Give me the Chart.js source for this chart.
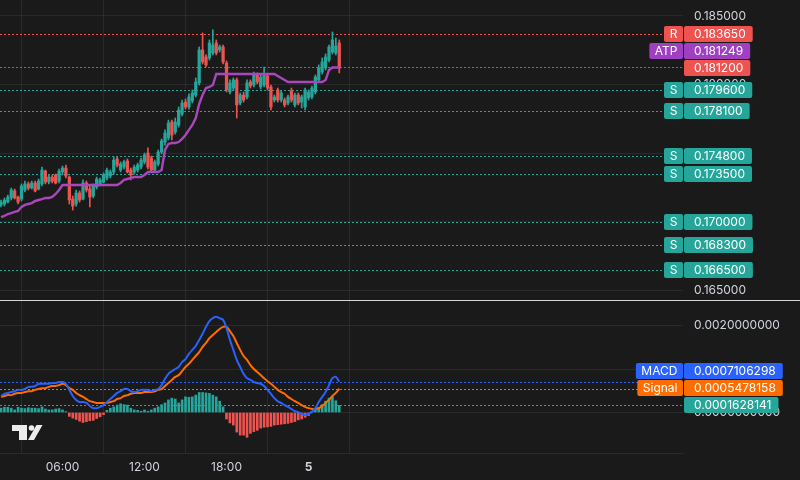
<!DOCTYPE html>
<html>
<head>
<meta charset="utf-8">
<script src="https://cdn.jsdelivr.net/npm/chart.js@4/dist/chart.umd.min.js"></script>
<style>
  html, body { margin: 0; padding: 0; background: #1a1a1a; }
  #wrap { width: 800px; height: 480px; overflow: hidden; }
  canvas { display: block; }
</style>
</head>
<body>
<div id="wrap">
  <canvas id="price" width="800" height="300"></canvas>
  <canvas id="macd" width="800" height="180"></canvas>
</div>
<script>
// 15 min candles, first one at 01:30
const firstHour = 1.5;
const stepHour = 0.25;

const opens = [
  0.17124, 0.17131, 0.17145, 0.17175, 0.17226, 0.17182, 0.17167, 0.17233, 0.17277, 0.17247,
  0.17284, 0.17240, 0.17277, 0.17371, 0.17291, 0.17327, 0.17342, 0.17298, 0.17364, 0.17393,
  0.17327, 0.17167, 0.17131, 0.17211, 0.17167, 0.17284, 0.17240, 0.17189, 0.17255, 0.17277,
  0.17291, 0.17320, 0.17335, 0.17364, 0.17459, 0.17378, 0.17400, 0.17444, 0.17378, 0.17364,
  0.17378, 0.17400, 0.17437, 0.17502, 0.17466, 0.17378, 0.17422, 0.17509, 0.17582, 0.17611,
  0.17728, 0.17655, 0.17706, 0.17786, 0.17873, 0.17837, 0.17881, 0.17924, 0.18012, 0.18252,
  0.18201, 0.18194, 0.18230, 0.18303, 0.18252, 0.18274, 0.18157, 0.17946, 0.17975, 0.18034,
  0.17866, 0.17924, 0.17910, 0.18019, 0.17997, 0.18070, 0.17983, 0.17997, 0.18063, 0.17983,
  0.17888, 0.17961, 0.17888, 0.17888, 0.17866, 0.17954, 0.17852, 0.17924, 0.17873, 0.17837,
  0.17903, 0.17910, 0.17946, 0.18034, 0.18092, 0.18121, 0.18179, 0.18237, 0.18230, 0.18303
];
const highs = [
  0.17160, 0.17175, 0.17196, 0.17247, 0.17240, 0.17189, 0.17277, 0.17298, 0.17291, 0.17298,
  0.17298, 0.17313, 0.17400, 0.17378, 0.17342, 0.17342, 0.17349, 0.17386, 0.17407, 0.17415,
  0.17335, 0.17189, 0.17233, 0.17226, 0.17306, 0.17298, 0.17269, 0.17277, 0.17327, 0.17320,
  0.17357, 0.17393, 0.17378, 0.17473, 0.17473, 0.17437, 0.17451, 0.17459, 0.17393, 0.17415,
  0.17429, 0.17466, 0.17502, 0.17539, 0.17480, 0.17451, 0.17524, 0.17604, 0.17670, 0.17742,
  0.17742, 0.17757, 0.17837, 0.17888, 0.17895, 0.17932, 0.17961, 0.18048, 0.18274, 0.18376,
  0.18216, 0.18325, 0.18398, 0.18325, 0.18288, 0.18288, 0.18172, 0.18034, 0.18048, 0.18048,
  0.17939, 0.17946, 0.18034, 0.18034, 0.18092, 0.18085, 0.18070, 0.18128, 0.18077, 0.17997,
  0.17924, 0.17975, 0.17954, 0.17903, 0.17924, 0.17975, 0.17939, 0.17939, 0.17924, 0.17975,
  0.17961, 0.17990, 0.18070, 0.18143, 0.18194, 0.18223, 0.18288, 0.18383, 0.18339, 0.18325
];
const lows = [
  0.17109, 0.17116, 0.17138, 0.17160, 0.17167, 0.17131, 0.17153, 0.17218, 0.17233, 0.17240,
  0.17218, 0.17233, 0.17262, 0.17277, 0.17277, 0.17284, 0.17277, 0.17284, 0.17342, 0.17320,
  0.17131, 0.17087, 0.17116, 0.17145, 0.17160, 0.17218, 0.17109, 0.17175, 0.17240, 0.17262,
  0.17284, 0.17306, 0.17320, 0.17349, 0.17400, 0.17364, 0.17386, 0.17357, 0.17306, 0.17349,
  0.17364, 0.17386, 0.17422, 0.17386, 0.17364, 0.17364, 0.17408, 0.17495, 0.17560, 0.17597,
  0.17597, 0.17640, 0.17691, 0.17772, 0.17822, 0.17822, 0.17866, 0.17910, 0.17997, 0.18150,
  0.18128, 0.18179, 0.18216, 0.18216, 0.18237, 0.18150, 0.17946, 0.17932, 0.17961, 0.17757,
  0.17852, 0.17873, 0.17895, 0.17975, 0.17983, 0.18005, 0.17968, 0.17983, 0.17961, 0.17815,
  0.17873, 0.17873, 0.17873, 0.17837, 0.17852, 0.17873, 0.17837, 0.17852, 0.17830, 0.17815,
  0.17888, 0.17895, 0.17932, 0.18019, 0.18077, 0.18106, 0.18165, 0.18223, 0.18216, 0.18085
];
const closes = [
  0.17145, 0.17160, 0.17182, 0.17233, 0.17175, 0.17145, 0.17262, 0.17277, 0.17247, 0.17284,
  0.17226, 0.17298, 0.17378, 0.17291, 0.17327, 0.17298, 0.17284, 0.17371, 0.17393, 0.17335,
  0.17160, 0.17116, 0.17211, 0.17160, 0.17284, 0.17233, 0.17182, 0.17262, 0.17313, 0.17306,
  0.17342, 0.17378, 0.17364, 0.17451, 0.17415, 0.17422, 0.17437, 0.17364, 0.17342, 0.17400,
  0.17415, 0.17451, 0.17488, 0.17400, 0.17378, 0.17437, 0.17509, 0.17590, 0.17648, 0.17721,
  0.17633, 0.17728, 0.17815, 0.17866, 0.17837, 0.17910, 0.17939, 0.18019, 0.18252, 0.18165,
  0.18143, 0.18303, 0.18288, 0.18230, 0.18274, 0.18165, 0.17961, 0.18012, 0.18034, 0.17852,
  0.17924, 0.17888, 0.18012, 0.17990, 0.18070, 0.18019, 0.18055, 0.18070, 0.17975, 0.17837,
  0.17910, 0.17888, 0.17939, 0.17852, 0.17910, 0.17888, 0.17924, 0.17866, 0.17910, 0.17961,
  0.17946, 0.17975, 0.18055, 0.18121, 0.18165, 0.18201, 0.18274, 0.18325, 0.18281, 0.18120
];
// ATP (purple step line)
const atp = [
  0.17036, 0.17044, 0.17058, 0.17065, 0.17073, 0.17080, 0.17109, 0.17124, 0.17131, 0.17138,
  0.17153, 0.17160, 0.17167, 0.17175, 0.17175, 0.17182, 0.17204, 0.17233, 0.17269, 0.17269,
  0.17269, 0.17269, 0.17269, 0.17269, 0.17269, 0.17269, 0.17269, 0.17269, 0.17269, 0.17269,
  0.17269, 0.17269, 0.17269, 0.17269, 0.17269, 0.17284, 0.17306, 0.17313, 0.17320, 0.17327,
  0.17327, 0.17327, 0.17342, 0.17364, 0.17364, 0.17364, 0.17364, 0.17378, 0.17524, 0.17568,
  0.17575, 0.17575, 0.17582, 0.17604, 0.17633, 0.17670, 0.17706, 0.17757, 0.17859, 0.17924,
  0.17975, 0.17983, 0.17997, 0.18077, 0.18077, 0.18077, 0.18077, 0.18077, 0.18077, 0.18077,
  0.18077, 0.18077, 0.18077, 0.18077, 0.18077, 0.18077, 0.18077, 0.18077, 0.18077, 0.18077,
  0.18077, 0.18063, 0.18048, 0.18034, 0.18019, 0.18019, 0.18019, 0.18019, 0.18019, 0.18019,
  0.18019, 0.18019, 0.18019, 0.18019, 0.18019, 0.18034, 0.18106, 0.181249, 0.181249, 0.181249
];

const macdLine = [
  0.00038, 0.00043, 0.00045, 0.00047, 0.00049, 0.00052, 0.00052, 0.00054, 0.00059, 0.00059,
  0.00061, 0.00066, 0.00066, 0.00066, 0.00066, 0.00068, 0.00068, 0.00070, 0.00070, 0.00066,
  0.00052, 0.00038, 0.00029, 0.00024, 0.00024, 0.00022, 0.00015, 0.00010, 0.00010, 0.00013,
  0.00017, 0.00024, 0.00031, 0.00038, 0.00045, 0.00049, 0.00054, 0.00054, 0.00049, 0.00047,
  0.00049, 0.00052, 0.00052, 0.00052, 0.00049, 0.00052, 0.00054, 0.00063, 0.00077, 0.00089,
  0.00095, 0.00100, 0.00105, 0.00116, 0.00123, 0.00135, 0.00144, 0.00153, 0.00167, 0.00181,
  0.00197, 0.00210, 0.00217, 0.00220, 0.00217, 0.00213, 0.00194, 0.00167, 0.00144, 0.00121,
  0.00105, 0.00089, 0.00079, 0.00075, 0.00070, 0.00068, 0.00066, 0.00061, 0.00052, 0.00043,
  0.00033, 0.00026, 0.00022, 0.00017, 0.00013, 0.00008, 0.00003, 0.00001, -0.00003, -0.00006,
  -0.00003, 0.00001, 0.00010, 0.00024, 0.00036, 0.00047, 0.00063, 0.00079, 0.00082, 0.0007106298
];
const signalLine = [
  0.00036, 0.00038, 0.00040, 0.00040, 0.00043, 0.00045, 0.00045, 0.00047, 0.00049, 0.00049,
  0.00052, 0.00054, 0.00056, 0.00056, 0.00059, 0.00061, 0.00061, 0.00063, 0.00066, 0.00063,
  0.00056, 0.00052, 0.00045, 0.00040, 0.00036, 0.00031, 0.00026, 0.00024, 0.00022, 0.00022,
  0.00022, 0.00022, 0.00024, 0.00026, 0.00031, 0.00033, 0.00038, 0.00040, 0.00043, 0.00045,
  0.00045, 0.00045, 0.00047, 0.00047, 0.00047, 0.00049, 0.00052, 0.00054, 0.00061, 0.00068,
  0.00075, 0.00082, 0.00086, 0.00095, 0.00105, 0.00112, 0.00121, 0.00130, 0.00139, 0.00151,
  0.00160, 0.00171, 0.00178, 0.00185, 0.00192, 0.00197, 0.00197, 0.00187, 0.00176, 0.00160,
  0.00144, 0.00130, 0.00121, 0.00109, 0.00100, 0.00093, 0.00086, 0.00079, 0.00072, 0.00066,
  0.00059, 0.00052, 0.00047, 0.00043, 0.00036, 0.00031, 0.00026, 0.00022, 0.00017, 0.00013,
  0.00010, 0.00008, 0.00008, 0.00010, 0.00015, 0.00022, 0.00029, 0.00038, 0.00045, 0.0005478158
];
const histogram = [
  0.00010, 0.00012, 0.00012, 0.00010, 0.00006, 0.00012, 0.00010, 0.00009, 0.00011, 0.00010,
  0.00010, 0.00009, 0.00013, 0.00008, 0.00006, 0.00006, 0.00008, 0.00009, 0.00006, 0.00002,
  -0.00009, -0.00013, -0.00016, -0.00020, -0.00023, -0.00021, -0.00019, -0.00018, -0.00014, -0.00010,
  -0.00005, 0.00005, 0.00010, 0.00013, 0.00017, 0.00020, 0.00018, 0.00017, 0.00010, 0.00006,
  0.00005, 0.00003, 0.00006, 0.00003, 0.00006, 0.00010, 0.00013, 0.00018, 0.00022, 0.00029,
  0.00033, 0.00031, 0.00022, 0.00029, 0.00036, 0.00035, 0.00036, 0.00040, 0.00046, 0.00046,
  0.00045, 0.00044, 0.00040, 0.00036, 0.00026, 0.00013, -0.00015, -0.00024, -0.00029, -0.00045,
  -0.00052, -0.00052, -0.00057, -0.00048, -0.00044, -0.00041, -0.00036, -0.00034, -0.00033, -0.00032,
  -0.00029, -0.00028, -0.00027, -0.00026, -0.00025, -0.00023, -0.00021, -0.00017, -0.00015, -0.00011,
  -0.00007, 0.00003, 0.00006, 0.00012, 0.00018, 0.00026, 0.00033, 0.00036, 0.00027, 0.0001628141
];

const resistanceLevels = [0.18365];
const supportLevels = [0.1796, 0.1781, 0.1748, 0.1735, 0.1700, 0.1683, 0.1665];

const priceTicks = [0.165, 0.170, 0.175, 0.180, 0.185];
const macdTicks = [0, 0.001, 0.002];
const timeTickHours = [6, 12, 18, 24];
const timeTickLabels = ['06:00', '12:00', '18:00', '5'];

const GREEN = '#26a69a';
const RED = '#ef5350';
const PURPLE = '#ab47bc';
const ATP_BOX = '#9f3fc2';
const BLUE = '#2962ff';
const ORANGE = '#ff6d00';
const GRID = 'rgba(255,255,255,0.07)';
const TEXT = '#d1d4dc';
const FONT = 'Inter, "Noto Sans", sans-serif';

const xMin = 1.427, xMax = 51.4;

const candleX = closes.map((_, i) => firstHour + i * stepHour);
const candleColor = closes.map((c, i) => c >= opens[i] ? GREEN : RED);

function box(ctx, x, y, w, h, color) {
  ctx.fillStyle = color;
  ctx.beginPath();
  ctx.roundRect(x, y, w, h, 2);
  ctx.fill();
}

// push labels apart from the bottom up so they don't overlap
function spread(items, gap) {
  items.sort((a, b) => b.y - a.y);
  for (let i = 1; i < items.length; i++) {
    if (items[i].y > items[i - 1].y - gap) items[i].y = items[i - 1].y - gap;
  }
}

function levelPlugin(levels) {
  return {
    id: 'levels',
    beforeDatasetsDraw(chart) {
      const { ctx, chartArea: a, scales: { y } } = chart;
      ctx.save();
      ctx.lineWidth = 1;
      ctx.setLineDash([2, 2]);
      levels.filter(l => l.line).forEach(l => {
        const py = Math.round(y.getPixelForValue(l.value)) + 0.5;
        ctx.strokeStyle = l.lineColor || l.color;
        ctx.beginPath();
        ctx.moveTo(a.left, py);
        ctx.lineTo(a.right, py);
        ctx.stroke();
      });
      ctx.restore();
    },
    afterDraw(chart) {
      const { ctx, chartArea: a, scales: { y } } = chart;
      const items = levels.map(l => Object.assign({}, l, { y: y.getPixelForValue(l.value) }));
      spread(items, 17);
      ctx.save();
      ctx.font = '12px ' + FONT;
      ctx.textBaseline = 'middle';
      items.forEach(it => {
        const txt = it.value.toFixed(it.digits);
        const w = ctx.measureText(txt).width + 17;
        const top = Math.round(it.y - 8);
        box(ctx, a.right + 1, top, w, 16, it.color);
        ctx.fillStyle = '#ffffff';
        ctx.textAlign = 'left';
        ctx.fillText(txt, a.right + 11, top + 8.5);
        if (it.tag) {
          const tw = Math.max(19, ctx.measureText(it.tag).width + 11);
          box(ctx, a.right - tw, top, tw, 16, it.color);
          ctx.fillStyle = '#ffffff';
          ctx.textAlign = 'center';
          ctx.fillText(it.tag, a.right - tw / 2, top + 8.5);
        }
      });
      ctx.restore();
    }
  };
}

const priceLevels = [
  ...resistanceLevels.map(v => ({ value: v, color: RED, tag: 'R', digits: 6, line: true })),
  { value: atp[atp.length - 1], color: ATP_BOX, lineColor: PURPLE, tag: 'ATP', digits: 6, line: true },
  { value: closes[closes.length - 1], color: candleColor[candleColor.length - 1], digits: 6, line: false },
  ...supportLevels.map(v => ({ value: v, color: GREEN, tag: 'S', digits: 6, line: true }))
];

const macdLevels = [
  { value: macdLine[macdLine.length - 1], color: BLUE, tag: 'MACD', digits: 10, line: true },
  { value: signalLine[signalLine.length - 1], color: ORANGE, tag: 'Signal', digits: 10, line: true },
  { value: histogram[histogram.length - 1], color: GREEN, digits: 10, line: true }
];

// keep the panes edge to edge: no label overhang padding
function fitY(s) {
  s.width = 117;
  s.paddingTop = 0;
  s.paddingBottom = 0;
}
function fitX(h) {
  return s => {
    s.height = h;
    s.paddingLeft = 0;
    s.paddingRight = 0;
  };
}

const timeAxis = {
  type: 'linear', min: xMin, max: xMax, offset: false,
  afterBuildTicks: s => { s.ticks = timeTickHours.map(v => ({ value: v })); },
  grid: { color: GRID, drawTicks: false },
};

// ---------- price pane ----------
new Chart(document.getElementById('price'), {
  type: 'bar',
  data: {
    datasets: [
      {
        type: 'line',
        data: atp.map((v, i) => ({ x: candleX[i], y: v })),
        borderColor: PURPLE, borderWidth: 2.4, pointRadius: 0, tension: 0, order: 0
      },
      {
        data: candleX.map((x, i) => ({ x: x, y: [opens[i], closes[i]] })),
        backgroundColor: candleColor, barThickness: 2.6, minBarLength: 1, grouped: false, order: 1
      },
      {
        data: candleX.map((x, i) => ({ x: x, y: [lows[i], highs[i]] })),
        backgroundColor: candleColor, barThickness: 1, grouped: false, order: 2
      }
    ]
  },
  options: {
    responsive: false, animation: false, events: [],
    layout: { padding: 0 },
    plugins: { legend: { display: false }, tooltip: { enabled: false } },
    scales: {
      x: Object.assign({}, timeAxis, {
        afterFit: fitX(0),
        border: { display: false },
        ticks: { display: false }
      }),
      y: {
        position: 'right', min: 0.164323, max: 0.186157,
        afterBuildTicks: s => { s.ticks = priceTicks.map(v => ({ value: v })); },
        afterFit: fitY,
        grid: { color: GRID, drawTicks: false },
        border: { display: false },
        ticks: { color: TEXT, padding: 11, font: { family: FONT, size: 12 }, callback: v => v.toFixed(6) }
      }
    }
  },
  plugins: [levelPlugin(priceLevels)]
});

// ---------- MACD pane ----------
const macdDecor = {
  id: 'decor',
  beforeDraw(chart) {
    const ctx = chart.ctx;
    ctx.save();
    ctx.fillStyle = '#d6d6d6';
    ctx.fillRect(0, 0, chart.width, 1);
    ctx.restore();
  },
  afterDraw(chart) {
    // TradingView mark
    const ctx = chart.ctx;
    ctx.save();
    ctx.fillStyle = '#ececec';
    ctx.fillRect(12, 125, 15, 6);
    ctx.fillRect(19, 125, 8, 15);
    ctx.beginPath();
    ctx.arc(31.5, 128, 2.8, 0, Math.PI * 2);
    ctx.fill();
    ctx.beginPath();
    ctx.moveTo(36.5, 125);
    ctx.lineTo(42.5, 125);
    ctx.lineTo(34, 140);
    ctx.lineTo(28, 140);
    ctx.closePath();
    ctx.fill();
    ctx.restore();
  }
};

new Chart(document.getElementById('macd'), {
  type: 'bar',
  data: {
    datasets: [
      {
        type: 'line',
        data: macdLine.map((v, i) => ({ x: candleX[i], y: v })),
        borderColor: BLUE, borderWidth: 2, pointRadius: 0, tension: 0.3, order: 0
      },
      {
        type: 'line',
        data: signalLine.map((v, i) => ({ x: candleX[i], y: v })),
        borderColor: ORANGE, borderWidth: 2, pointRadius: 0, tension: 0.3, order: 1
      },
      {
        data: histogram.map((v, i) => ({ x: candleX[i], y: v })),
        backgroundColor: histogram.map(v => v >= 0 ? GREEN : RED),
        barThickness: 2, grouped: false, order: 2
      }
    ]
  },
  options: {
    responsive: false, animation: false, events: [],
    layout: { padding: { top: 1, left: 0, right: 0, bottom: 0 } },
    plugins: { legend: { display: false }, tooltip: { enabled: false } },
    scales: {
      x: Object.assign({}, timeAxis, {
        afterFit: fitX(27),
        border: { display: true, color: GRID },
        ticks: {
          color: TEXT, padding: 7, maxRotation: 0, autoSkip: false,
          font: c => ({ family: FONT, size: 12, weight: c.tick && c.tick.value === 24 ? 'bold' : 'normal' }),
          callback: v => timeTickLabels[timeTickHours.indexOf(v)]
        }
      }),
      y: {
        position: 'right', min: -0.0009315, max: 0.0025645,
        afterBuildTicks: s => { s.ticks = macdTicks.map(v => ({ value: v })); },
        afterFit: fitY,
        grid: { color: GRID, drawTicks: false },
        border: { display: false },
        ticks: { color: TEXT, padding: 11, font: { family: FONT, size: 12 }, callback: v => v.toFixed(10) }
      }
    }
  },
  plugins: [levelPlugin(macdLevels), macdDecor]
});
</script>
</body>
</html>
